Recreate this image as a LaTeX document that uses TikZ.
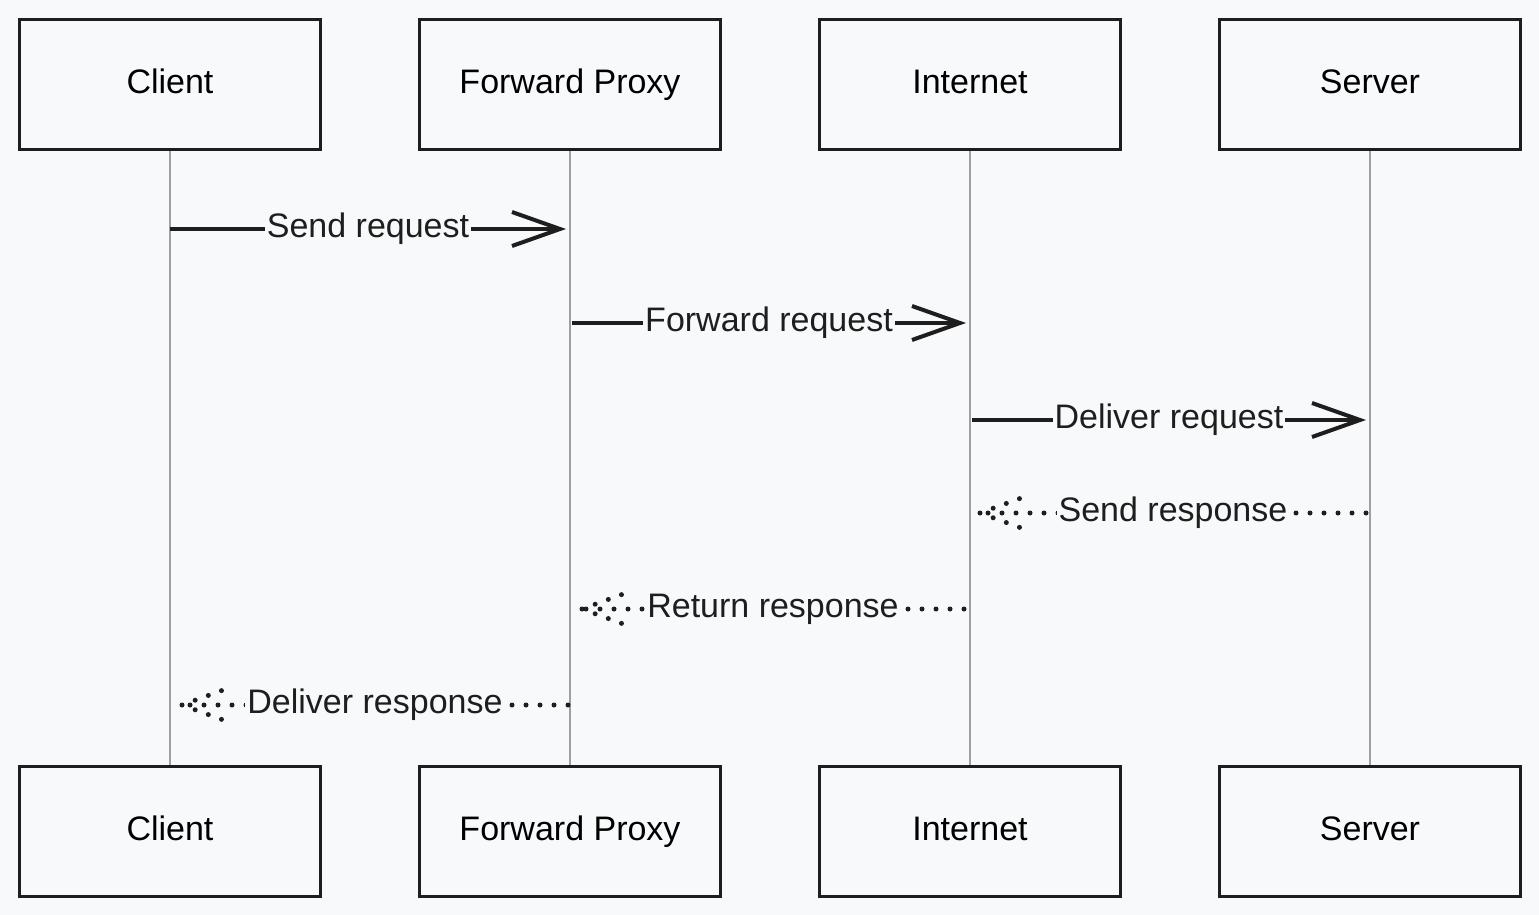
\documentclass[tikz,border=0pt]{standalone}
\usepackage{fontspec}
\setmainfont{Liberation Sans}
\usepackage{xcolor}
\usetikzlibrary{arrows.meta}
\definecolor{bgcol}{HTML}{F8F9FA}
\definecolor{ink}{HTML}{1E1E1E}
\definecolor{lifecol}{HTML}{A0A0A0}

\begin{document}
\begin{tikzpicture}[x=0.5pt, y=-0.5pt,
  actor/.style={draw=ink, fill=bgcol, line width=1.5pt, minimum width=150.5pt, minimum height=65pt, text height=12pt, text depth=3pt, font=\fontsize{17}{20}\selectfont},
  life/.style={draw=lifecol, line width=0.75pt},
  arr/.style={draw=ink, line width=2pt, -{Straight Barb[length=24pt, width=17pt, line width=2pt]}},
  ret/.style={draw=ink, line width=2.5pt, line cap=round, dash pattern=on 0pt off 7pt},
  msg/.style={fill=bgcol, inner sep=1pt, text=ink, font=\fontsize{17}{20}\selectfont}
]
\useasboundingbox[fill=bgcol] (0,0) rectangle (1539,915);

% actors
\node[actor] (clientT) at (170,85) {Client};
\node[actor] (proxyT) at (570,85) {Forward Proxy};
\node[actor] (netT) at (970,85) {Internet};
\node[actor] (serverT) at (1370,85) {Server};
\node[actor] (clientB) at (170,831) {Client};
\node[actor] (proxyB) at (570,831) {Forward Proxy};
\node[actor] (netB) at (970,831) {Internet};
\node[actor] (serverB) at (1370,831) {Server};

% lifelines
\draw[life] (clientT) -- (clientB);
\draw[life] (proxyT) -- (proxyB);
\draw[life] (netT) -- (netB);
\draw[life] (serverT) -- (serverB);

% message ends
\coordinate (c1) at (170,229); \coordinate (p1) at (566,229);
\coordinate (p2) at (572,323); \coordinate (n2) at (966,323);
\coordinate (n3) at (972,420); \coordinate (s3) at (1366,420);
\coordinate (s4) at (1366,513); \coordinate (n4) at (980,513);
\coordinate (n5) at (964,609); \coordinate (p5) at (582,609);
\coordinate (p6) at (568,705); \coordinate (c6) at (182,705);

% requests
\draw[arr] (c1) -- node[msg] (m1) {Send request} (p1);
\draw[arr] (p2) -- node[msg] (m2) {Forward request} (n2);
\draw[arr] (n3) -- node[msg] (m3) {Deliver request} (s3);

% responses
\draw[ret] (s4) -- node[msg] (m4) {Send response} (n4);
\draw[ret] (n4) -- ++(44,-16) (n4) -- ++(44,16);
\draw[ret] (n5) -- node[msg] (m5) {Return response} (p5);
\draw[ret] (p5) -- ++(44,-16) (p5) -- ++(44,16);
\draw[ret] (p6) -- node[msg] (m6) {Deliver response} (c6);
\draw[ret] (c6) -- ++(44,-16) (c6) -- ++(44,16);
\end{tikzpicture}
\end{document}
